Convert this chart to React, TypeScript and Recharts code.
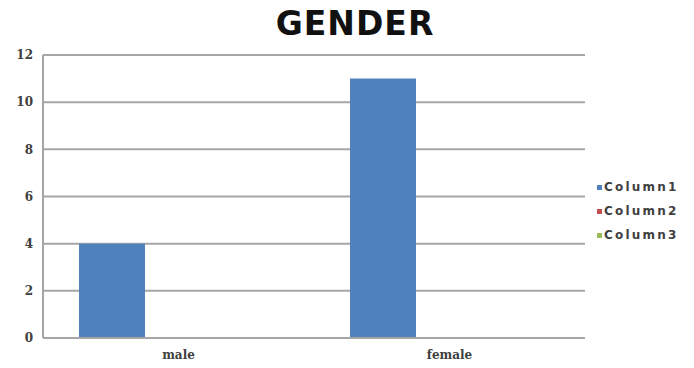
import { BarChart, Bar, XAxis, YAxis, CartesianGrid } from "recharts";

const categories = ["male", "female"];
const column1 = [4, 11];
const column2 = [0, 0];
const column3 = [0, 0];
const yTicks = [0, 2, 4, 6, 8, 10, 12];

const seriesNames = ["Column1", "Column2", "Column3"];
const seriesColors = ["#4f81bd", "#c0504d", "#9bbb59"];

const data = categories.map((name, i) => ({
  name,
  Column1: column1[i],
  Column2: column2[i],
  Column3: column3[i],
}));

const tickStyle = {
  fontFamily: "'DejaVu Serif', serif",
  fontWeight: 700,
  fontSize: 12,
  fill: "#404040",
};

function LegendBox() {
  return (
    <div
      style={{
        position: "absolute",
        left: 597,
        top: 175,
        fontFamily: "'DejaVu Sans', sans-serif",
        fontWeight: 700,
      }}
    >
      {seriesNames.map((s, i) => (
        <div
          key={s}
          style={{
            display: "flex",
            alignItems: "center",
            height: 24,
            fontSize: 12,
            letterSpacing: "2.2px",
            color: "#404040",
          }}
        >
          <span
            style={{
              width: 5,
              height: 5,
              background: seriesColors[i],
              marginRight: 2,
              display: "inline-block",
            }}
          />
          {s}
        </div>
      ))}
    </div>
  );
}

export default function App() {
  return (
    <div
      style={{
        position: "absolute",
        left: 0,
        top: 0,
        width: 694,
        height: 368,
        background: "#fff",
      }}
    >
      <div
        style={{
          position: "absolute",
          top: 1,
          left: 0,
          width: 710,
          textAlign: "center",
          fontFamily: "'DejaVu Sans', sans-serif",
          fontWeight: 700,
          fontSize: 33,
          letterSpacing: "1px",
          color: "#111",
          lineHeight: "46px",
        }}
      >
        GENDER
      </div>
      <BarChart
        width={694}
        height={368}
        data={data}
        margin={{ top: 55, right: 109, bottom: 0, left: 0 }}
        barCategoryGap={36}
        barGap={0}
      >
        <CartesianGrid
          vertical={false}
          stroke="#a6a6a6"
          strokeWidth={2}
        />
        <XAxis
          dataKey="name"
          height={30}
          tick={{ ...tickStyle, dy: 4 }}
          tickLine={false}
          axisLine={{ stroke: "#a6a6a6", strokeWidth: 2 }}
        />
        <YAxis
          width={43}
          domain={[0, 12]}
          ticks={yTicks}
          tick={{ ...tickStyle, dx: -2 }}
          tickLine={false}
          axisLine={{ stroke: "#a6a6a6", strokeWidth: 2 }}
        />
        {seriesNames.map((s, i) => (
          <Bar
            key={s}
            dataKey={s}
            fill={seriesColors[i]}
            isAnimationActive={false}
          />
        ))}
      </BarChart>
      <LegendBox />
    </div>
  );
}
